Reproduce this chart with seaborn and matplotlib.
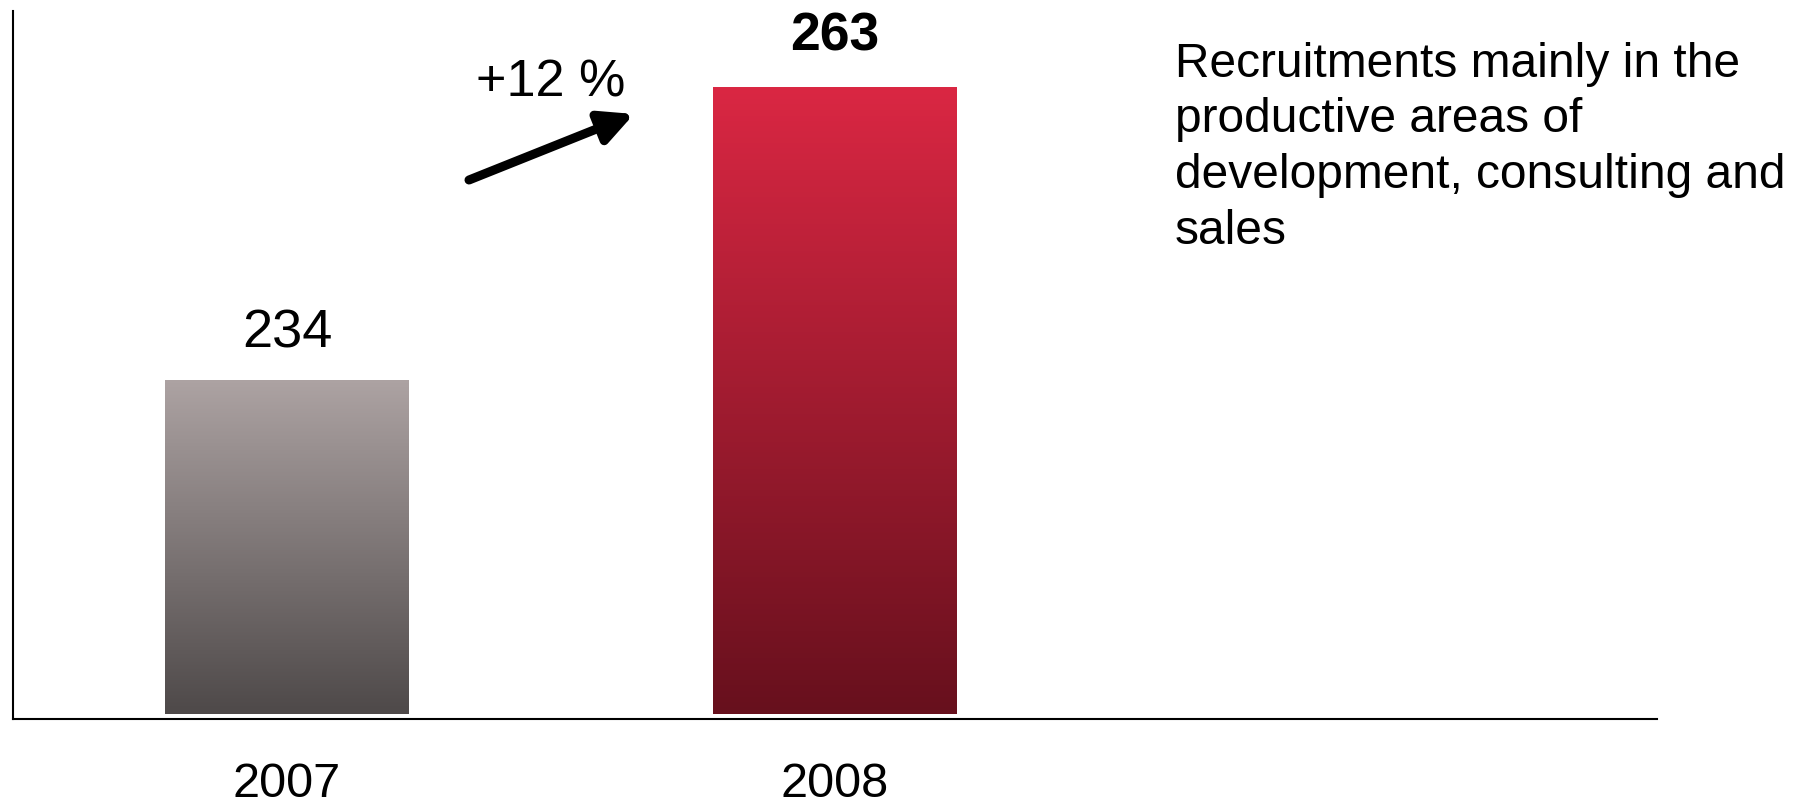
import numpy as np
import matplotlib
matplotlib.use("Agg")
import matplotlib.pyplot as plt
from matplotlib.colors import LinearSegmentedColormap
import seaborn as sns

# ── Data ───────────────────────────────────
years = ["2007", "2008"]
recruits = [234, 263]
growth_label = "+12 %"
note = "Recruitments mainly in the\nproductive areas of\ndevelopment, consulting and\nsales"

# top / bottom colours of each bar gradient
grad_colors = [("#ada3a3", "#4e4949"), ("#da2743", "#67101d")]

sns.set_style("white")
plt.rcParams["font.family"] = ["Liberation Sans", "DejaVu Sans"]
plt.rcParams["text.color"] = "black"
plt.rcParams["xtick.color"] = "black"

fig = plt.figure(figsize=(18.01, 8.07), dpi=100)
ax = fig.add_axes([0.0072, 0.109, 0.913, 0.877])

sns.barplot(x=years, y=recruits, ax=ax, width=0.445, color="#999999", saturation=1)

y0, y1 = 200.4, 270.5
base = 200.9  # bars float just above the axis line

# gradient fill, clipped to each bar
for bar, (top, bottom) in zip(ax.patches, grad_colors):
    x0 = bar.get_x()
    w = bar.get_width()
    h = bar.get_y() + bar.get_height()
    bar.set_y(base)
    bar.set_height(h - base)
    bar.set_facecolor("none")
    bar.set_edgecolor("none")
    cmap = LinearSegmentedColormap.from_list("g", [bottom, top])
    grad = np.linspace(0, 1, 256).reshape(-1, 1)
    im = ax.imshow(grad, cmap=cmap, aspect="auto", origin="lower",
                   extent=(x0, x0 + w, base, h), zorder=2)
    im.set_clip_path(bar)

ax.set_xlim(-0.5, 2.5)
ax.set_ylim(y0, y1)

# value labels
ax.text(0, recruits[0] + 4.6, str(recruits[0]), ha="center", va="center", fontsize=39)
ax.text(1, recruits[1] + 5.0, str(recruits[1]), ha="center", va="center",
        fontsize=38.5, fontweight="bold")

# growth arrow
ax.annotate("", xy=(634 / 1801, 1 - 114 / 807), xytext=(469 / 1801, 1 - 180 / 807),
            xycoords="figure fraction", textcoords="figure fraction",
            arrowprops=dict(arrowstyle="-|>,head_length=0.9,head_width=0.45",
                            color="black", lw=6.5, mutation_scale=22, shrinkA=0, shrinkB=0))
fig.text(551 / 1801, 1 - 83 / 807, growth_label, ha="center", va="center", fontsize=37.5)

fig.text(1175 / 1801, 1 - 42 / 807, note, ha="left", va="top", fontsize=34.5, linespacing=1.3)

# axes styling
sns.despine(ax=ax, top=True, right=True)
for s in ["left", "bottom"]:
    ax.spines[s].set_color("black")
    ax.spines[s].set_linewidth(1.5)
ax.set_yticks([])
ax.tick_params(axis="x", length=0, pad=31, labelsize=35)
ax.set_xlabel("")
ax.set_ylabel("")

fig.savefig("out.png", dpi=100)
